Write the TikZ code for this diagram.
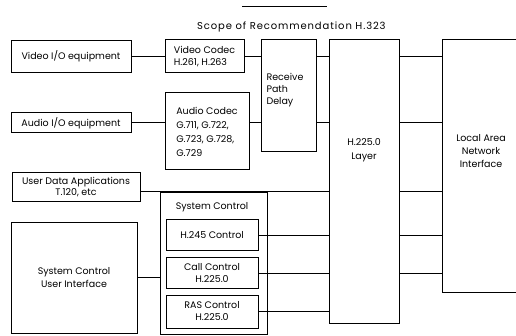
\documentclass[tikz,border=0pt]{standalone}
\usepackage{fontspec}
\setmainfont{Poppins}
\begin{document}
\begin{tikzpicture}[x=1pt,y=-1pt,
  box/.style={draw, line width=1pt, inner sep=1pt, align=center, font=\fontsize{9.5}{13}\selectfont},
  lbl/.style={inner sep=0pt, font=\fontsize{9.5}{13}\selectfont},
  conn/.style={line width=1pt}]
\useasboundingbox (0,0) rectangle (516,336);
% title
\coordinate (tl1) at (242,7);
\coordinate (tl2) at (327,7);
\draw[conn] (tl1) -- (tl2);
\node[lbl, anchor=west, font=\fontsize{10}{13}\selectfont\addfontfeature{LetterSpace=9}] (title) at (197,27) {Scope of Recommendation H.323};
% left column
\node[box, minimum width=120pt, minimum height=32pt] (vio) at (71,56.5) {Video I/O equipment};
\node[box, minimum width=120pt, minimum height=20pt] (aio) at (71,123) {Audio I/O equipment};
\node[box, minimum width=128pt, minimum height=29pt, font=\fontsize{9.5}{11}\selectfont] (udata) at (76,187.5) {User Data Applications\\T.120, etc};
\node[box, minimum width=126pt, minimum height=110pt] (scui) at (74,278) {System Control\\User Interface};
% codecs
\node[box, align=left, minimum width=79pt, minimum height=33pt, font=\fontsize{9.5}{12}\selectfont] (vcodec) at (204.5,56.5) {Video Codec\\H.261, H.263};
\node[box, align=left, minimum width=84pt, minimum height=77pt, font=\fontsize{9.5}{14}\selectfont] (acodec) at (207,131.5) {Audio Codec\\G.711, G.722,\\G.723, G.728,\\G.729};
\node[box, minimum width=55pt, minimum height=112pt] (rpd) at (288.5,96) {};
\node[lbl, align=left, font=\fontsize{9.5}{12}\selectfont] (rpdtxt) at (285,90) {Receive\\Path\\Delay};
% system control
\node[box, minimum width=107pt, minimum height=141pt] (sysctl) at (213.5,263.5) {};
\node[lbl] (sysctltxt) at (212,207) {System Control};
\node[box, minimum width=92pt, minimum height=31pt] (h245) at (212,235.5) {H.245 Control};
\node[box, minimum width=92pt, minimum height=31pt, font=\fontsize{9.5}{12}\selectfont] (call) at (212,273.5) {Call Control\\H.225.0};
\node[box, minimum width=92pt, minimum height=33pt, font=\fontsize{9.5}{12}\selectfont] (ras) at (212,311.5) {RAS Control\\H.225.0};
% H.225.0 layer
\node[box, minimum width=70pt, minimum height=283pt] (h225) at (364,181.5) {};
\node[lbl, align=center, font=\fontsize{9.5}{14}\selectfont] (h225txt) at (364,150) {H.225.0\\Layer};
% LAN interface (open to the right)
\coordinate (lanNW) at (442,40);
\coordinate (lanSW) at (442,292);
\coordinate (lanNE) at (518,40);
\coordinate (lanSE) at (518,292);
\draw[conn] (lanNE) -- (lanNW) -- (lanSW) -- (lanSE);
\node[lbl, align=center, font=\fontsize{9.5}{13}\selectfont] (lantxt) at (481,151) {Local Area\\Network\\Interface};
% connectors
\coordinate (yud) at (0,192);
\draw[conn] (vio.east) -- (vcodec.west);
\draw[conn] (vcodec.east) -- (vcodec.east -| rpd.west);
\draw[conn] (rpd.east |- vcodec) -- (h225.west |- vcodec);
\draw[conn] (h225.east |- vcodec) -- (lanNW |- vcodec);
\draw[conn] (aio.east) -- (aio.east -| acodec.west);
\draw[conn] (acodec.east |- aio) -- (rpd.west |- aio);
\draw[conn] (rpd.east |- aio) -- (h225.west |- aio);
\draw[conn] (h225.east |- aio) -- (lanNW |- aio);
\draw[conn] (udata.east |- yud) -- (h225.west |- yud);
\draw[conn] (h225.east |- yud) -- (lanNW |- yud);
\draw[conn] (scui.east) -- (scui.east -| sysctl.west);
\draw[conn] (h245.east) -- (h245.east -| h225.west);
\draw[conn] (call.east) -- (call.east -| h225.west);
\draw[conn] (ras.east) -- (ras.east -| h225.west);
\draw[conn] (h225.east |- h245) -- (lanNW |- h245);
\draw[conn] (h225.east |- call) -- (lanNW |- call);
\end{tikzpicture}
\end{document}
